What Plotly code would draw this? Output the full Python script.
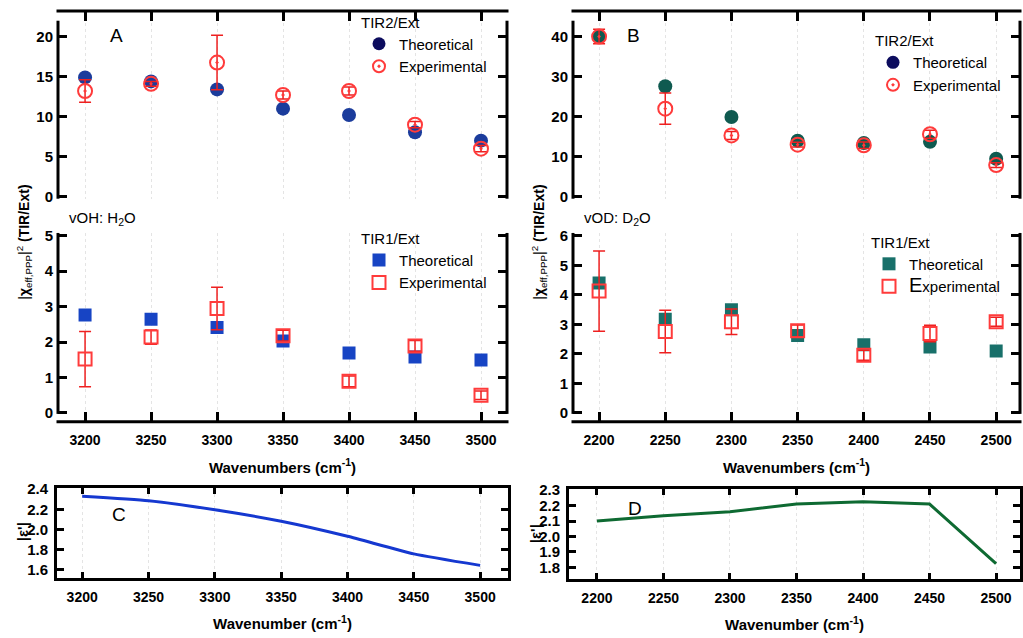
import plotly.graph_objects as go

W, H = 1023, 638

# ---------------- data ----------------
wn_oh = [3200, 3250, 3300, 3350, 3400, 3450, 3500]
wn_od = [2200, 2250, 2300, 2350, 2400, 2450, 2500]

a_tir2_theo = [14.9, 14.4, 13.4, 11.0, 10.2, 8.05, 7.0]
a_tir2_exp = [13.2, 14.1, 16.75, 12.7, 13.2, 9.0, 6.0]
a_tir2_err = [1.4, 0.3, 3.4, 0.5, 0.5, 0.4, 0.4]

a_tir1_theo = [2.76, 2.64, 2.41, 2.03, 1.69, 1.58, 1.49]
a_tir1_exp = [1.52, 2.14, 2.95, 2.18, 0.89, 1.89, 0.50]
a_tir1_err = [0.78, 0.20, 0.60, 0.15, 0.15, 0.15, 0.12]

b_tir2_theo = [40.0, 27.6, 19.9, 14.0, 13.4, 13.7, 9.5]
b_tir2_exp = [40.0, 22.0, 15.3, 13.0, 12.85, 15.6, 7.9]
b_tir2_err = [1.8, 3.9, 1.0, 0.6, 0.8, 1.0, 0.6]

b_tir1_theo = [4.40, 3.17, 3.50, 2.62, 2.31, 2.23, 2.10]
b_tir1_exp = [4.13, 2.76, 3.09, 2.78, 1.95, 2.69, 3.09]
b_tir1_err = [1.36, 0.72, 0.43, 0.20, 0.17, 0.28, 0.15]

c_eps = [2.33, 2.285, 2.195, 2.08, 1.93, 1.755, 1.64]
d_eps = [2.10, 2.135, 2.16, 2.21, 2.225, 2.21, 1.825]

ticks_a_top = [0, 5, 10, 15, 20]
ticks_a_bot = [0, 1, 2, 3, 4, 5]
ticks_b_top = [0, 10, 20, 30, 40]
ticks_b_bot = [0, 1, 2, 3, 4, 5, 6]
ticks_c = [1.6, 1.8, 2.0, 2.2, 2.4]
ticks_d = [1.8, 1.9, 2.0, 2.1, 2.2, 2.3]

# ---------------- styles ----------------
FONT = "Liberation Sans, Arial, Helvetica, sans-serif"
RED = "#ff3b3b"
ERR = "#ee2020"
NAVY_LEG = "#0c0c5e"
A_CIRC = "#1b3c9c"
A_SQ = "#1744c4"
B_CIRC = "#0f5a50"
B_SQ = "#18706a"
C_LINE = "#1538d0"
D_LINE = "#0e6a32"


def fx(p):
    return p / W


def fy(p):
    return 1 - p / H


fig = go.Figure()


def err(vals):
    return dict(type="data", array=vals, visible=True, color=ERR, thickness=1.5, width=6)


# Panel A top (TIR2/Ext)
fig.add_trace(go.Scatter(x=wn_oh, y=a_tir2_theo, mode="markers", xaxis="x", yaxis="y",
                         marker=dict(symbol="circle", size=14, color=A_CIRC,
                                     line=dict(width=0)),
                         name="Theoretical", showlegend=False))
fig.add_trace(go.Scatter(x=wn_oh, y=a_tir2_exp, mode="markers", xaxis="x", yaxis="y",
                         marker=dict(symbol="circle-open-dot", size=14, color=RED,
                                     line=dict(width=2)),
                         error_y=err(a_tir2_err),
                         name="Experimental", showlegend=False))
fig.add_trace(go.Scatter(x=[None], y=[None], mode="markers", xaxis="x", yaxis="y",
                         marker=dict(symbol="circle", size=13, color=NAVY_LEG),
                         name="Theoretical", legend="legend"))
fig.add_trace(go.Scatter(x=[None], y=[None], mode="markers", xaxis="x", yaxis="y",
                         marker=dict(symbol="circle-open-dot", size=12, color=RED,
                                     line=dict(width=2)),
                         name="Experimental", legend="legend"))

# Panel A bottom (TIR1/Ext)
fig.add_trace(go.Scatter(x=wn_oh, y=a_tir1_theo, mode="markers", xaxis="x2", yaxis="y2",
                         marker=dict(symbol="square", size=13, color=A_SQ, line=dict(width=0)),
                         name="Theoretical", legend="legend2"))
fig.add_trace(go.Scatter(x=wn_oh, y=a_tir1_exp, mode="markers", xaxis="x2", yaxis="y2",
                         marker=dict(symbol="square-open", size=13, color=RED, line=dict(width=2)),
                         error_y=err(a_tir1_err),
                         name="Experimental", legend="legend2"))

# Panel B top (TIR2/Ext)
fig.add_trace(go.Scatter(x=wn_od, y=b_tir2_theo, mode="markers", xaxis="x3", yaxis="y3",
                         marker=dict(symbol="circle", size=14, color=B_CIRC, line=dict(width=0)),
                         name="Theoretical", showlegend=False))
fig.add_trace(go.Scatter(x=wn_od, y=b_tir2_exp, mode="markers", xaxis="x3", yaxis="y3",
                         marker=dict(symbol="circle-open-dot", size=14, color=RED, line=dict(width=2)),
                         error_y=err(b_tir2_err),
                         name="Experimental", showlegend=False))
fig.add_trace(go.Scatter(x=[None], y=[None], mode="markers", xaxis="x3", yaxis="y3",
                         marker=dict(symbol="circle", size=13, color=NAVY_LEG),
                         name="Theoretical", legend="legend3"))
fig.add_trace(go.Scatter(x=[None], y=[None], mode="markers", xaxis="x3", yaxis="y3",
                         marker=dict(symbol="circle-open-dot", size=12, color=RED, line=dict(width=2)),
                         name="Experimental", legend="legend3"))

# Panel B bottom (TIR1/Ext)
fig.add_trace(go.Scatter(x=wn_od, y=b_tir1_theo, mode="markers", xaxis="x4", yaxis="y4",
                         marker=dict(symbol="square", size=13, color=B_SQ, line=dict(width=0)),
                         name="Theoretical", legend="legend4"))
fig.add_trace(go.Scatter(x=wn_od, y=b_tir1_exp, mode="markers", xaxis="x4", yaxis="y4",
                         marker=dict(symbol="square-open", size=13, color=RED, line=dict(width=2)),
                         error_y=err(b_tir1_err),
                         name="<span style='font-size:20px'>E</span>xperimental", legend="legend4"))

# Panel C
fig.add_trace(go.Scatter(x=wn_oh, y=c_eps, mode="lines", xaxis="x5", yaxis="y5",
                         line=dict(color=C_LINE, width=3, shape="spline", smoothing=0.5),
                         showlegend=False, name="|ε'| H2O"))
# Panel D
fig.add_trace(go.Scatter(x=wn_od, y=d_eps, mode="lines", xaxis="x6", yaxis="y6",
                         line=dict(color=D_LINE, width=3),
                         showlegend=False, name="|ε'| D2O"))

xtickfont = dict(family=FONT, size=14, color="black", weight="bold")
ytickfont = dict(family=FONT, size=15, color="black", weight="bold")
grid = dict(showgrid=True, gridcolor="#e4e4e4", griddash="dot", gridwidth=1)


def xax(dom, rng, vals, anchor, side, labels, title=None):
    d = dict(domain=[fx(dom[0]), fx(dom[1])], range=rng, tickvals=vals, anchor=anchor,
             side=side, ticks="inside", ticklen=10, tickwidth=3, tickcolor="black",
             showticklabels=labels, showline=False, zeroline=False, tickfont=xtickfont,
             ticklabelstandoff=8, **grid)
    if title:
        d["title"] = dict(text=title, font=dict(family=FONT, size=15, color="black", weight="bold"))
    return d


def yax(dom, rng, vals, anchor):
    return dict(domain=[fy(dom[1]), fy(dom[0])], range=rng, tickvals=vals, anchor=anchor,
                ticks="inside", ticklen=9, tickwidth=3, tickcolor="black", mirror="ticks",
                showline=False, zeroline=False, showgrid=False, tickfont=ytickfont,
                ticklabelstandoff=4)


xt = "Wavenumbers (cm<sup>-1</sup>)"
xt2 = "Wavenumber (cm<sup>-1</sup>)"

layout = dict(
    width=W, height=H, margin=dict(l=0, r=0, t=0, b=0),
    paper_bgcolor="white", plot_bgcolor="white",
    font=dict(family=FONT, color="black"),
    xaxis=xax((58, 507), [3179.5, 3519.7], wn_oh, "y", "top", False),
    yaxis=yax((3, 195), [-0.25, 23.2], ticks_a_top, "x"),
    xaxis2=xax((58, 507), [3179.5, 3519.7], wn_oh, "y2", "bottom", True, xt),
    yaxis2=yax((230, 423), [-0.25, 5.08], ticks_a_bot, "x2"),
    xaxis3=xax((573, 1020), [2180.3, 2518], wn_od, "y3", "top", False),
    yaxis3=yax((3, 195), [-0.5, 46.4], ticks_b_top, "x3"),
    xaxis4=xax((573, 1020), [2180.3, 2518], wn_od, "y4", "bottom", True, xt),
    yaxis4=yax((230, 423), [-0.3, 6.1], ticks_b_bot, "x4"),
)

# Panels C and D: full boxes
for i, (xd, xr, xv, yd, yr, yv) in {
    5: ((57, 508), [3181, 3521], wn_oh, (491, 583), [1.512, 2.41], ticks_c),
    6: ((569, 1020), [2179, 2518], wn_od, (492, 584), [1.724, 2.306], ticks_d),
}.items():
    layout[f"xaxis{i}"] = dict(domain=[fx(xd[0]), fx(xd[1])], range=xr, tickvals=xv, anchor=f"y{i}",
                               ticks="inside", ticklen=6, tickwidth=3, tickcolor="black",
                               showline=True, linewidth=3, linecolor="black", mirror="ticks",
                               zeroline=False, tickfont=xtickfont, ticklabelstandoff=4, **grid,
                               title=dict(text=xt2, font=dict(family=FONT, size=15, color="black",
                                                              weight="bold")))
    layout[f"yaxis{i}"] = dict(domain=[fy(yd[1]), fy(yd[0])], range=yr, tickvals=yv, anchor=f"x{i}",
                               tickformat=".1f",
                               ticks="inside", ticklen=7, tickwidth=3, tickcolor="black",
                               showline=True, linewidth=3, linecolor="black", mirror="ticks",
                               zeroline=False, showgrid=False, tickfont=ytickfont,
                               ticklabelstandoff=3)

# legends
legfont = dict(family=FONT, size=15, color="black")


def leg(xp, yp, title):
    return dict(x=fx(xp), y=fy(yp), xanchor="left", yanchor="top", bgcolor="rgba(0,0,0,0)",
                font=legfont, title=dict(text=title, font=legfont), tracegroupgap=0,
                itemsizing="trace")


layout["legend"] = leg(359, 0, "TIR2/Ext")
layout["legend2"] = leg(359, 221, "TIR1/Ext")
layout["legend3"] = leg(873, 19, "TIR2/Ext")
layout["legend4"] = leg(869, 225, "TIR1/Ext")

# frame lines (Igor-style offset axes)
shapes = []


def line(x0, y0, x1, y1):
    shapes.append(dict(type="line", xref="paper", yref="paper", x0=fx(x0), y0=fy(y0),
                       x1=fx(x1), y1=fy(y1), line=dict(color="black", width=3)))


for (L, R) in [(58, 507), (573, 1020)]:
    line(L - 1.5, 3, R + 1.5, 3)
    line(L, 13, L, 195)
    line(R, 13, R, 195)
    line(L, 230, L, 415)
    line(R, 230, R, 415)
    line(L - 1.5, 423, R + 1.5, 423)

layout["shapes"] = shapes

ann = []


def text(xp, yp, s, size=18, xanchor="left", angle=0, bold=False):
    ann.append(dict(x=fx(xp), y=fy(yp), xref="paper", yref="paper", text=s, showarrow=False,
                    xanchor=xanchor, yanchor="middle", textangle=angle,
                    font=dict(family=FONT, size=size, color="black",
                              weight="bold" if bold else "normal")))


text(108, 28, "A", 19)
text(625, 28, "B", 19)
text(110, 518, "C", 19)
text(626, 512, "D", 19)
text(67, 215, "vOH: H<sub>2</sub>O", 15)
text(582, 215, "vOD: D<sub>2</sub>O", 15)
ytitle = "|<b>χ</b><sub>eff,PPP</sub>|<sup>2</sup> <b>(TIR/Ext)</b>"
text(24, 240, ytitle, 14, "center", -90)
text(539, 240, ytitle, 14, "center", -90)
text(22, 536, "|ε'|", 15, "center", -90, True)
text(535, 538, "|ε'|", 15, "center", -90, True)
layout["annotations"] = ann

fig.update_layout(**layout)
fig.write_html("out.html", config={"displayModeBar": False},
               post_script="document.body.style.margin='0';document.body.style.padding='0';"
                           "document.body.style.overflow='hidden';")
